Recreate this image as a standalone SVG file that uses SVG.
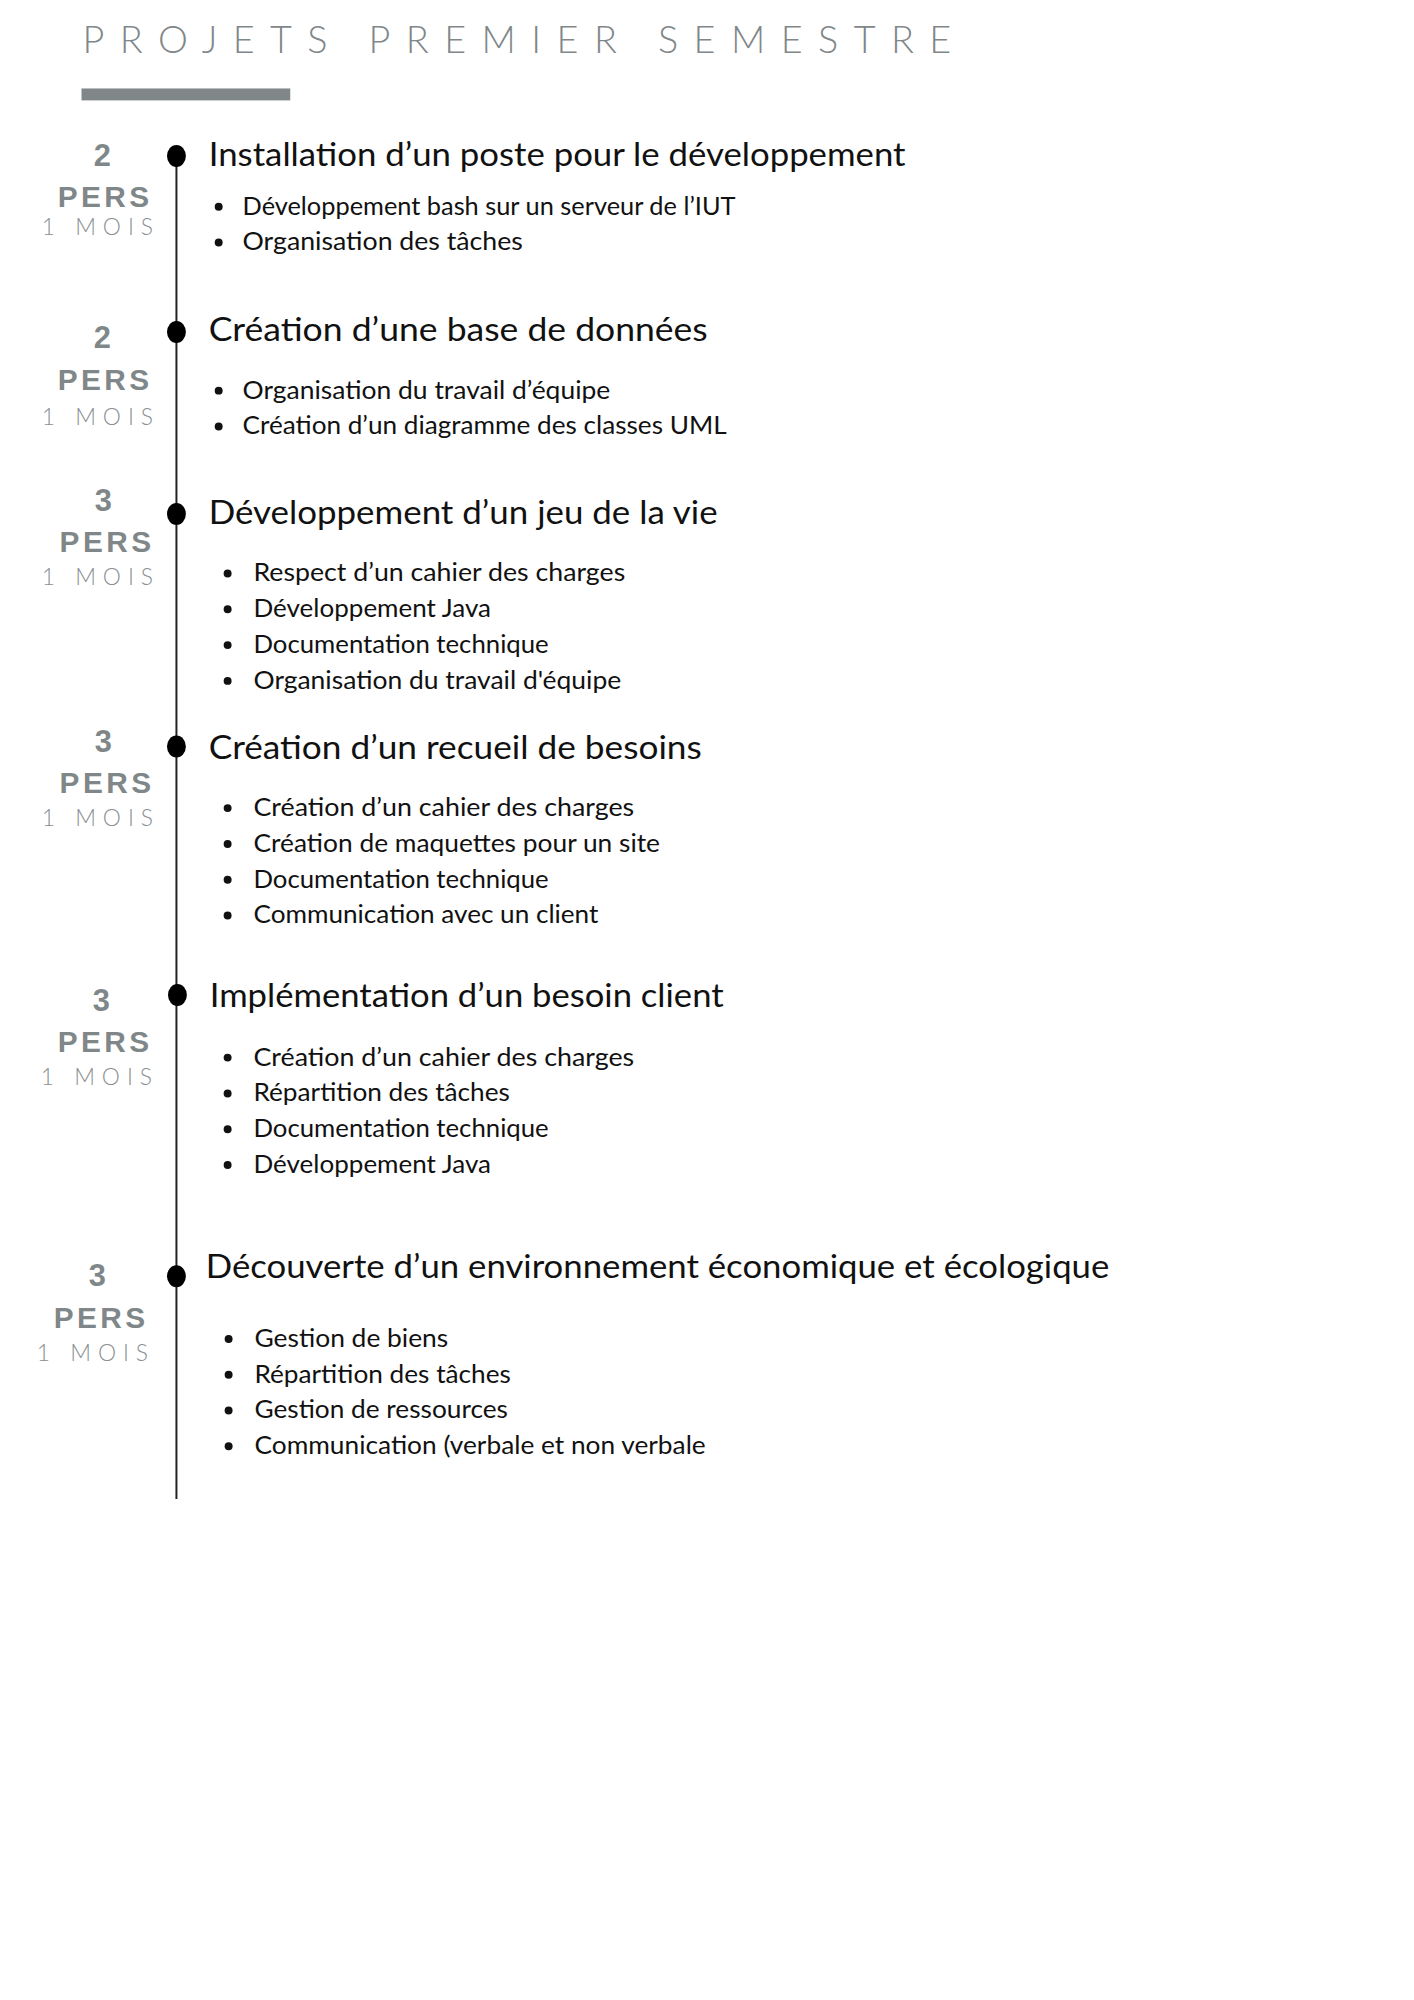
<svg xmlns="http://www.w3.org/2000/svg" width="1414" height="2000" viewBox="0 0 1414 2000">
<style>
.title{font-family:Lato,"Liberation Sans",sans-serif;font-weight:300;font-size:38px;fill:#7f8789}
.num{font-family:"Liberation Sans Narrow","Liberation Sans",sans-serif;font-weight:bold;font-size:31px;fill:#7f8789;text-anchor:middle}
.pers{font-family:"Liberation Sans Narrow","Liberation Sans",sans-serif;font-weight:bold;font-size:30px;fill:#7f8789}
.mois{font-family:Lato,"Liberation Sans",sans-serif;font-weight:300;font-size:23px;fill:#8a9093}
.head{font-family:Lato,"Liberation Sans",sans-serif;font-size:33px;fill:#111}
.item{font-family:Lato,"Liberation Sans",sans-serif;font-size:25px;fill:#111}
.dot{fill:#000}
.bul{fill:#111}
</style>
<rect width="1414" height="2000" fill="#fff"/>
<g transform="scale(0.994)">
<g id="header">
<text class="title" x="83" y="53" textLength="874" lengthAdjust="spacing">PROJETS PREMIER SEMESTRE</text>
<rect x="82" y="89" width="210" height="12" fill="#7f8789"/>
</g>
<g id="connectors">
<line x1="177.5" y1="157" x2="177.5" y2="1508" stroke="#222" stroke-width="2"/>
</g>
<g id="s1">
<ellipse class="dot" cx="177.5" cy="157" rx="9.5" ry="11"/>
<text class="num" x="103" y="167">2</text>
<text class="pers" x="58" y="208" textLength="92" lengthAdjust="spacing">PERS</text>
<text class="mois" x="42" y="236" textLength="112" lengthAdjust="spacing">1 MOIS</text>
<text class="head" x="210" y="167" textLength="701" lengthAdjust="spacingAndGlyphs">Installation d’un poste pour le développement</text>
<circle class="bul" cx="220" cy="208" r="4"/>
<text class="item" x="244" y="216" textLength="496" lengthAdjust="spacingAndGlyphs">Développement bash sur un serveur de l’IUT</text>
<circle class="bul" cx="220" cy="244" r="4"/>
<text class="item" x="244" y="252" textLength="282" lengthAdjust="spacingAndGlyphs">Organisation des tâches</text>
</g>
<g id="s2">
<ellipse class="dot" cx="177.5" cy="334" rx="9.5" ry="11"/>
<text class="num" x="103" y="350">2</text>
<text class="pers" x="58" y="392" textLength="92" lengthAdjust="spacing">PERS</text>
<text class="mois" x="42" y="428" textLength="112" lengthAdjust="spacing">1 MOIS</text>
<text class="head" x="210" y="343" textLength="502" lengthAdjust="spacingAndGlyphs">Création d’une base de données</text>
<circle class="bul" cx="220" cy="393" r="4"/>
<text class="item" x="244" y="401" textLength="370" lengthAdjust="spacingAndGlyphs">Organisation du travail d’équipe</text>
<circle class="bul" cx="220" cy="429" r="4"/>
<text class="item" x="244" y="437" textLength="487" lengthAdjust="spacingAndGlyphs">Création d’un diagramme des classes UML</text>
</g>
<g id="s3">
<ellipse class="dot" cx="177.5" cy="517" rx="9.5" ry="11"/>
<text class="num" x="104" y="514">3</text>
<text class="pers" x="60" y="555" textLength="92" lengthAdjust="spacing">PERS</text>
<text class="mois" x="42" y="589" textLength="112" lengthAdjust="spacing">1 MOIS</text>
<text class="head" x="210" y="527" textLength="512" lengthAdjust="spacingAndGlyphs">Développement d’un jeu de la vie</text>
<circle class="bul" cx="229" cy="577" r="4"/>
<text class="item" x="255" y="585" textLength="374" lengthAdjust="spacingAndGlyphs">Respect d’un cahier des charges</text>
<circle class="bul" cx="229" cy="613" r="4"/>
<text class="item" x="255" y="621" textLength="239" lengthAdjust="spacingAndGlyphs">Développement Java</text>
<circle class="bul" cx="229" cy="649" r="4"/>
<text class="item" x="255" y="657" textLength="297" lengthAdjust="spacingAndGlyphs">Documentation technique</text>
<circle class="bul" cx="229" cy="685" r="4"/>
<text class="item" x="255" y="693" textLength="370" lengthAdjust="spacingAndGlyphs">Organisation du travail d'équipe</text>
</g>
<g id="s4">
<ellipse class="dot" cx="177.5" cy="751" rx="9.5" ry="11"/>
<text class="num" x="104" y="757">3</text>
<text class="pers" x="60" y="798" textLength="92" lengthAdjust="spacing">PERS</text>
<text class="mois" x="42" y="831" textLength="112" lengthAdjust="spacing">1 MOIS</text>
<text class="head" x="210" y="764" textLength="496" lengthAdjust="spacingAndGlyphs">Création d’un recueil de besoins</text>
<circle class="bul" cx="229" cy="813" r="4"/>
<text class="item" x="255" y="821" textLength="383" lengthAdjust="spacingAndGlyphs">Création d’un cahier des charges</text>
<circle class="bul" cx="229" cy="849" r="4"/>
<text class="item" x="255" y="857" textLength="409" lengthAdjust="spacingAndGlyphs">Création de maquettes pour un site</text>
<circle class="bul" cx="229" cy="885" r="4"/>
<text class="item" x="255" y="893" textLength="297" lengthAdjust="spacingAndGlyphs">Documentation technique</text>
<circle class="bul" cx="229" cy="921" r="4"/>
<text class="item" x="255" y="929" textLength="347" lengthAdjust="spacingAndGlyphs">Communication avec un client</text>
</g>
<g id="s5">
<ellipse class="dot" cx="178.5" cy="1001" rx="9.5" ry="11"/>
<text class="num" x="102" y="1017">3</text>
<text class="pers" x="58" y="1058" textLength="92" lengthAdjust="spacing">PERS</text>
<text class="mois" x="41" y="1092" textLength="112" lengthAdjust="spacing">1 MOIS</text>
<text class="head" x="211" y="1013" textLength="517" lengthAdjust="spacingAndGlyphs">Implémentation d’un besoin client</text>
<circle class="bul" cx="229" cy="1064" r="4"/>
<text class="item" x="255" y="1072" textLength="383" lengthAdjust="spacingAndGlyphs">Création d’un cahier des charges</text>
<circle class="bul" cx="229" cy="1100" r="4"/>
<text class="item" x="255" y="1108" textLength="258" lengthAdjust="spacingAndGlyphs">Répartition des tâches</text>
<circle class="bul" cx="229" cy="1136" r="4"/>
<text class="item" x="255" y="1144" textLength="297" lengthAdjust="spacingAndGlyphs">Documentation technique</text>
<circle class="bul" cx="229" cy="1172" r="4"/>
<text class="item" x="255" y="1180" textLength="239" lengthAdjust="spacingAndGlyphs">Développement Java</text>
</g>
<g id="s6">
<ellipse class="dot" cx="177.5" cy="1284" rx="9.5" ry="11"/>
<text class="num" x="98" y="1294">3</text>
<text class="pers" x="54" y="1336" textLength="92" lengthAdjust="spacing">PERS</text>
<text class="mois" x="37" y="1369" textLength="112" lengthAdjust="spacing">1 MOIS</text>
<text class="head" x="207" y="1286" textLength="909" lengthAdjust="spacingAndGlyphs">Découverte d’un environnement économique et écologique</text>
<circle class="bul" cx="230" cy="1347" r="4"/>
<text class="item" x="256" y="1355" textLength="195" lengthAdjust="spacingAndGlyphs">Gestion de biens</text>
<circle class="bul" cx="230" cy="1383" r="4"/>
<text class="item" x="256" y="1391" textLength="258" lengthAdjust="spacingAndGlyphs">Répartition des tâches</text>
<circle class="bul" cx="230" cy="1419" r="4"/>
<text class="item" x="256" y="1427" textLength="255" lengthAdjust="spacingAndGlyphs">Gestion de ressources</text>
<circle class="bul" cx="230" cy="1455" r="4"/>
<text class="item" x="256" y="1463" textLength="454" lengthAdjust="spacingAndGlyphs">Communication (verbale et non verbale</text>
</g>
</g>
</svg>
